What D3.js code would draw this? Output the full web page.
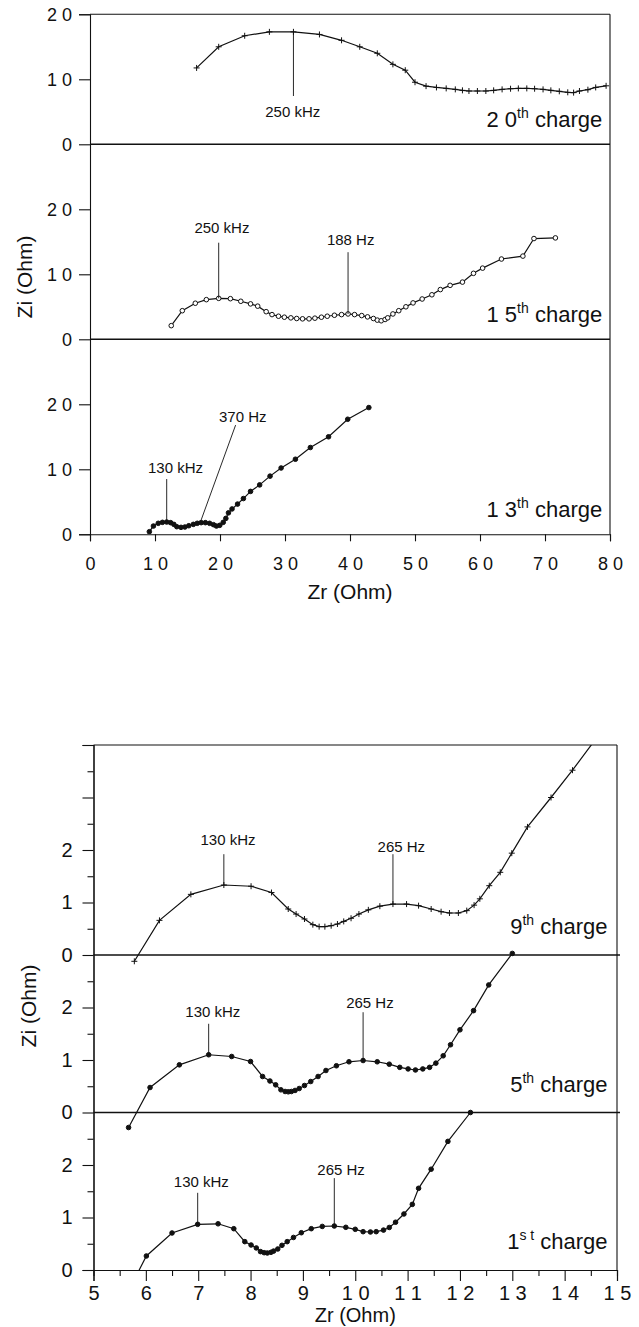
<!DOCTYPE html>
<html><head><meta charset="utf-8">
<script src="https://cdn.jsdelivr.net/npm/d3@7"></script>
<style>
body{margin:0;background:#fff}
svg text{font-family:"Liberation Sans",Arial,Helvetica,sans-serif;fill:#111}
</style></head><body>
<svg id="chart" width="639" height="1327"></svg>
<script>
// ---------------- DATA ----------------
// Top figure: Zr (Ohm) vs Zi (Ohm), three stacked panels
const charge20 = [[16.4,11.75],[19.8,15.0],[23.8,16.7],[27.6,17.3],[31.3,17.3],[35.3,16.9],[38.7,16.0],[41.5,15.0],[44.2,14.0],[46.6,12.3],[48.5,11.4],[50.0,9.55],[51.7,8.95],[53.3,8.75],[54.8,8.6],[56.2,8.45],[57.3,8.3],[58.3,8.2],[59.6,8.2],[60.9,8.2],[62.1,8.3],[63.4,8.45],[64.7,8.55],[65.9,8.6],[67.2,8.6],[68.4,8.55],[69.7,8.45],[70.9,8.3],[72.2,8.15],[73.5,8.0],[74.4,7.95],[75.3,8.2],[76.6,8.4],[77.8,8.75],[79.4,9.0]];
const charge15 = [[12.5,2.1],[14.2,4.4],[16.2,5.55],[17.9,6.1],[19.8,6.3],[21.6,6.25],[23.2,5.85],[24.7,5.45],[25.8,5.1],[27.1,4.25],[28.0,3.8],[29.0,3.55],[29.9,3.4],[30.9,3.3],[31.8,3.2],[32.7,3.15],[33.7,3.15],[34.6,3.25],[35.6,3.4],[36.5,3.55],[37.6,3.7],[38.7,3.8],[39.7,3.9],[40.7,3.8],[41.8,3.65],[42.7,3.45],[43.6,3.2],[44.2,2.95],[44.8,2.85],[45.4,3.05],[45.8,3.3],[46.6,3.9],[47.5,4.4],[48.6,5.0],[49.7,5.6],[51.1,6.2],[52.6,6.85],[53.9,7.65],[55.4,8.3],[57.3,8.8],[59.0,10.15],[60.4,10.95],[63.3,12.35],[66.6,12.8],[68.3,15.5],[71.6,15.6]];
const charge13 = [[9.13,0.4],[9.76,1.27],[10.5,1.69],[11.15,1.84],[11.8,1.89],[12.4,1.79],[12.9,1.53],[13.35,1.17],[14.0,1.07],[14.6,1.12],[15.2,1.32],[15.9,1.53],[16.5,1.69],[17.1,1.79],[17.75,1.79],[18.4,1.69],[19.0,1.48],[19.45,1.27],[19.96,1.38],[20.5,1.84],[20.9,2.45],[21.3,3.3],[21.85,3.9],[22.7,4.65],[23.6,5.5],[24.7,6.6],[26.1,7.6],[27.7,8.95],[29.4,10.2],[31.6,11.55],[33.9,13.35],[36.7,15.0],[39.65,17.7],[42.9,19.5]];

// Bottom figure
const charge9 = [[5.78,-0.12],[6.26,0.66],[6.86,1.155],[7.49,1.333],[8.01,1.31],[8.40,1.19],[8.72,0.876],[8.87,0.78],[9.03,0.686],[9.19,0.578],[9.31,0.54],[9.42,0.54],[9.54,0.558],[9.66,0.59],[9.78,0.64],[9.92,0.70],[10.07,0.78],[10.25,0.86],[10.47,0.93],[10.72,0.97],[10.98,0.97],[11.21,0.94],[11.45,0.876],[11.64,0.825],[11.80,0.80],[11.97,0.80],[12.13,0.845],[12.27,0.95],[12.38,1.07],[12.56,1.32],[12.77,1.575],[12.99,1.94],[13.29,2.44],[13.74,3.0],[14.15,3.52],[14.62,4.15]];
const charge5 = [[5.67,-0.286],[6.08,0.476],[6.64,0.908],[7.20,1.10],[7.64,1.067],[8.00,0.971],[8.23,0.686],[8.37,0.60],[8.48,0.527],[8.58,0.432],[8.66,0.40],[8.72,0.394],[8.78,0.40],[8.85,0.42],[8.93,0.457],[9.03,0.514],[9.15,0.59],[9.29,0.686],[9.44,0.80],[9.64,0.89],[9.88,0.966],[10.15,0.99],[10.42,0.966],[10.65,0.92],[10.85,0.86],[11.01,0.83],[11.15,0.81],[11.29,0.83],[11.42,0.86],[11.54,0.94],[11.68,1.08],[11.82,1.29],[12.0,1.575],[12.26,1.94],[12.55,2.43],[13.0,3.03]];
const charge1 = [[5.77,-0.2],[6.01,0.267],[6.50,0.705],[6.99,0.87],[7.38,0.88],[7.68,0.787],[7.89,0.54],[8.01,0.476],[8.11,0.42],[8.19,0.35],[8.26,0.33],[8.32,0.324],[8.39,0.337],[8.44,0.36],[8.52,0.40],[8.60,0.47],[8.70,0.54],[8.82,0.62],[8.97,0.71],[9.16,0.787],[9.37,0.83],[9.60,0.838],[9.82,0.813],[10.0,0.775],[10.15,0.73],[10.29,0.724],[10.40,0.73],[10.54,0.76],[10.65,0.81],[10.77,0.91],[10.93,1.067],[11.09,1.25],[11.21,1.556],[11.45,1.92],[11.77,2.45],[12.2,3.0]];

// Tick values and labels
const topXTicks = [0,10,20,30,40,50,60,70,80];
const topXTickLabels = ["0","1 0","2 0","3 0","4 0","5 0","6 0","7 0","8 0"];
const topYTicks = [0,10,20];
const topYTickLabels = ["0","1 0","2 0"];
const botXTicks = [5,6,7,8,9,10,11,12,13,14,15];
const botXTickLabels = ["5","6","7","8","9","1 0","1 1","1 2","1 3","1 4","1 5"];
const botYTicks = [0,1,2];
const botYTickLabels = ["0","1","2"];
const axisTitleX = "Zr (Ohm)";
const axisTitleY = "Zi (Ohm)";

// Panels (offset = vertical stacking offset in axis units)
const topPanels = [
  {num:"2 0", sup:"th", data:charge20, offset:60, marker:"plus"},
  {num:"1 5", sup:"th", data:charge15, offset:30, marker:"open"},
  {num:"1 3", sup:"th", data:charge13, offset:0,  marker:"dot"}
];
const botPanels = [
  {num:"9", sup:"th", data:charge9, offset:6, marker:"plus"},
  {num:"5", sup:"th", data:charge5, offset:3, marker:"dot"},
  {num:"1", sup:"s t", data:charge1, offset:0, marker:"dot"}
];
// Frequency annotations (panel-relative data units)
const topNotes = [
  {offset:60, label:"250 kHz", x1:31.3, y1:17.3, x2:31.3, y2:7.43, lx:31.2, ly:4.2},
  {offset:30, label:"250 kHz", x1:19.8, y1:6.3, x2:19.8, y2:14.86, lx:20.3, ly:16.35},
  {offset:30, label:"188 Hz",  x1:39.7, y1:3.9, x2:39.7, y2:13.4, lx:40.1, ly:14.5},
  {offset:0,  label:"130 kHz", x1:11.8, y1:1.89, x2:11.8, y2:8.5, lx:13.15, ly:9.43},
  {offset:0,  label:"370 Hz",  x1:17.1, y1:2.2, x2:22.4, y2:16.8, lx:23.5, ly:17.3}
];
const botNotes = [
  {offset:6, label:"130 kHz", x1:7.49, y1:1.333, x2:7.49, y2:1.92, lx:7.57, ly:2.10},
  {offset:6, label:"265 Hz",  x1:10.72, y1:0.97, x2:10.72, y2:1.92, lx:10.88, ly:1.96},
  {offset:3, label:"130 kHz", x1:7.20, y1:1.10, x2:7.20, y2:1.69, lx:7.28, ly:1.82},
  {offset:3, label:"265 Hz",  x1:10.15, y1:0.99, x2:10.15, y2:1.91, lx:10.28, ly:1.99},
  {offset:0, label:"130 kHz", x1:6.99, y1:0.87, x2:6.99, y2:1.47, lx:7.06, ly:1.59},
  {offset:0, label:"265 Hz",  x1:9.60, y1:0.838, x2:9.60, y2:1.75, lx:9.73, ly:1.81}
];

// ---------------- DRAW ----------------
const svg = d3.select("#chart");
const INK = "#111";

function styleAxis(g, fs){
  g.attr("font-family",null).attr("font-size",null);
  g.selectAll("path.domain").attr("stroke",INK).attr("stroke-width",1.1);
  g.selectAll(".tick line").attr("stroke",INK).attr("stroke-width",1.1);
  g.selectAll(".tick text").style("font-size",fs+"px").attr("fill",INK);
}

function drawMarkers(g, pts, type, x, y){
  if(type==="plus"){
    g.selectAll("path.m").data(pts).join("path").attr("class","m")
      .attr("d",d=>`M${x(d[0])-3},${y(d[1])}h6M${x(d[0])},${y(d[1])-3}v6`)
      .attr("stroke",INK).attr("stroke-width",1);
  } else {
    g.selectAll("circle.m").data(pts).join("circle").attr("class","m")
      .attr("cx",d=>x(d[0])).attr("cy",d=>y(d[1]))
      .attr("r", 2.3)
      .attr("fill", type==="open"?"#fff":INK)
      .attr("stroke",INK).attr("stroke-width",1);
  }
}

function panelLabel(sel, p, xPos, yPos, fs, sfs, raise){
  const t = sel.append("text").attr("x",xPos).attr("y",yPos)
    .attr("text-anchor","end").style("font-size",fs+"px");
  t.append("tspan").text(p.num);
  t.append("tspan").text(p.sup).style("font-size",sfs+"px").attr("dy",-raise);
  t.append("tspan").text(" charge").attr("dy",raise);
}

// ===== Top figure =====
(function(){
  const x = d3.scaleLinear().domain([0,80]).range([90,610]);
  const y = d3.scaleLinear().domain([0,80]).range([534.3,14.3]);
  const g = svg.append("g");

  svg.append("clipPath").attr("id","clipTop").append("rect")
    .attr("x",x(0)).attr("y",y(80)).attr("width",x(80)-x(0)).attr("height",y(0)-y(80));

  const yVals = topPanels.flatMap(p=>topYTicks.map(v=>v+p.offset)).sort((a,b)=>a-b);
  const ya = g.append("g").attr("transform",`translate(${x(0)},0)`)
    .call(d3.axisLeft(y).tickValues(yVals).tickSizeOuter(0).tickSize(11).tickPadding(7)
      .tickFormat(d=>topYTickLabels[topYTicks.indexOf(d%30===0?0:(d===80?20:d%30))]));
  styleAxis(ya,18);
  const xa = g.append("g").attr("transform",`translate(0,${y(0)})`)
    .call(d3.axisBottom(x).tickValues(topXTicks).tickSizeOuter(0).tickSize(7).tickPadding(16)
      .tickFormat((d,i)=>topXTickLabels[i]));
  styleAxis(xa,18);

  const fr = g.append("g").attr("stroke",INK).attr("stroke-width",1.1);
  fr.append("line").attr("x1",x(0)).attr("x2",x(80)).attr("y1",y(80)).attr("y2",y(80));
  fr.append("line").attr("x1",x(80)).attr("x2",x(80)).attr("y1",y(80)).attr("y2",y(0));
  topPanels.filter(p=>p.offset>0).forEach(p=>{
    fr.append("line").attr("x1",x(0)).attr("x2",x(80)).attr("y1",y(p.offset)).attr("y2",y(p.offset)).attr("stroke-width",1.4);
  });

  const dg = g.append("g").attr("clip-path","url(#clipTop)");
  topPanels.forEach(p=>{
    const yy = v=>y(v+p.offset);
    dg.append("path").datum(p.data)
      .attr("d",d3.line().x(d=>x(d[0])).y(d=>yy(d[1])))
      .attr("fill","none").attr("stroke",INK).attr("stroke-width",1.2);
    drawMarkers(dg.append("g"), p.data, p.marker, x, yy);
    panelLabel(g, p, x(78.8), y(p.offset+2.6), 22, 14, 9);
  });

  topNotes.forEach(n=>{
    g.append("line").attr("x1",x(n.x1)).attr("y1",y(n.y1+n.offset))
      .attr("x2",x(n.x2)).attr("y2",y(n.y2+n.offset))
      .attr("stroke",INK).attr("stroke-width",0.9);
    g.append("text").attr("x",x(n.lx)).attr("y",y(n.ly+n.offset))
      .attr("text-anchor","middle").style("font-size","15px").text(n.label);
  });

  g.append("text").attr("x",(x(0)+x(80))/2).attr("y",599).attr("text-anchor","middle")
    .style("font-size","21px").text(axisTitleX);
  g.append("text").attr("transform","translate(32,277) rotate(-90)").attr("text-anchor","middle")
    .style("font-size","21px").text(axisTitleY);
})();

// ===== Bottom figure =====
(function(){
  const x = d3.scaleLinear().domain([5,15]).range([93.5,617]);
  const y = d3.scaleLinear().domain([0,10]).range([1270,745]);
  const g = svg.append("g");

  svg.append("clipPath").attr("id","clipBot").append("rect")
    .attr("x",x(5)).attr("y",y(10)).attr("width",x(15)-x(5)).attr("height",y(0)-y(10));

  const majorY = d3.range(0,11);
  const minorY = d3.range(0.5,10,1);
  const yaMin = g.append("g").attr("transform",`translate(${x(5)},0)`)
    .call(d3.axisLeft(y).tickValues(minorY).tickSizeOuter(0).tickSize(6).tickFormat(""));
  styleAxis(yaMin,20);
  const yaMaj = g.append("g").attr("transform",`translate(${x(5)},0)`)
    .call(d3.axisLeft(y).tickValues(majorY).tickSizeOuter(0).tickSize(11).tickPadding(10)
      .tickFormat(d=> d<=8 ? botYTickLabels[botYTicks.indexOf(d%3)] : ""));
  styleAxis(yaMaj,20);

  const minorX = d3.range(5.5,15,1);
  const xaMin = g.append("g").attr("transform",`translate(0,${y(0)})`)
    .call(d3.axisBottom(x).tickValues(minorX).tickSizeOuter(0).tickSize(6).tickFormat(""));
  styleAxis(xaMin,20);
  const xaMaj = g.append("g").attr("transform",`translate(0,${y(0)})`)
    .call(d3.axisBottom(x).tickValues(botXTicks).tickSizeOuter(0).tickSize(11).tickPadding(5)
      .tickFormat((d,i)=>botXTickLabels[i]));
  styleAxis(xaMaj,20);

  const fr = g.append("g").attr("stroke",INK).attr("stroke-width",1.1);
  fr.append("line").attr("x1",x(5)).attr("x2",x(15)).attr("y1",y(10)).attr("y2",y(10));
  fr.append("line").attr("x1",x(15)).attr("x2",x(15)).attr("y1",y(10)).attr("y2",y(0));
  botPanels.filter(p=>p.offset>0).forEach(p=>{
    fr.append("line").attr("x1",x(5)).attr("x2",x(15)+3).attr("y1",y(p.offset)).attr("y2",y(p.offset)).attr("stroke-width",1.4);
  });

  const dg = g.append("g").attr("clip-path","url(#clipBot)");
  botPanels.forEach(p=>{
    const yy = v=>y(v+p.offset);
    dg.append("path").datum(p.data)
      .attr("d",d3.line().x(d=>x(d[0])).y(d=>yy(d[1])))
      .attr("fill","none").attr("stroke",INK).attr("stroke-width",1.2);
    drawMarkers(dg.append("g"), p.data, p.marker, x, yy);
    panelLabel(g, p, x(14.82), y(p.offset+0.4), 22, 14, 9);
  });

  botNotes.forEach(n=>{
    g.append("line").attr("x1",x(n.x1)).attr("y1",y(n.y1+n.offset))
      .attr("x2",x(n.x2)).attr("y2",y(n.y2+n.offset))
      .attr("stroke",INK).attr("stroke-width",0.9);
    g.append("text").attr("x",x(n.lx)).attr("y",y(n.ly+n.offset))
      .attr("text-anchor","middle").style("font-size","15px").text(n.label);
  });

  g.append("text").attr("x",(x(5)+x(15))/2).attr("y",1322).attr("text-anchor","middle")
    .style("font-size","20px").text(axisTitleX);
  g.append("text").attr("transform","translate(36,1006) rotate(-90)").attr("text-anchor","middle")
    .style("font-size","21px").text(axisTitleY);
})();
</script>
</body></html>
